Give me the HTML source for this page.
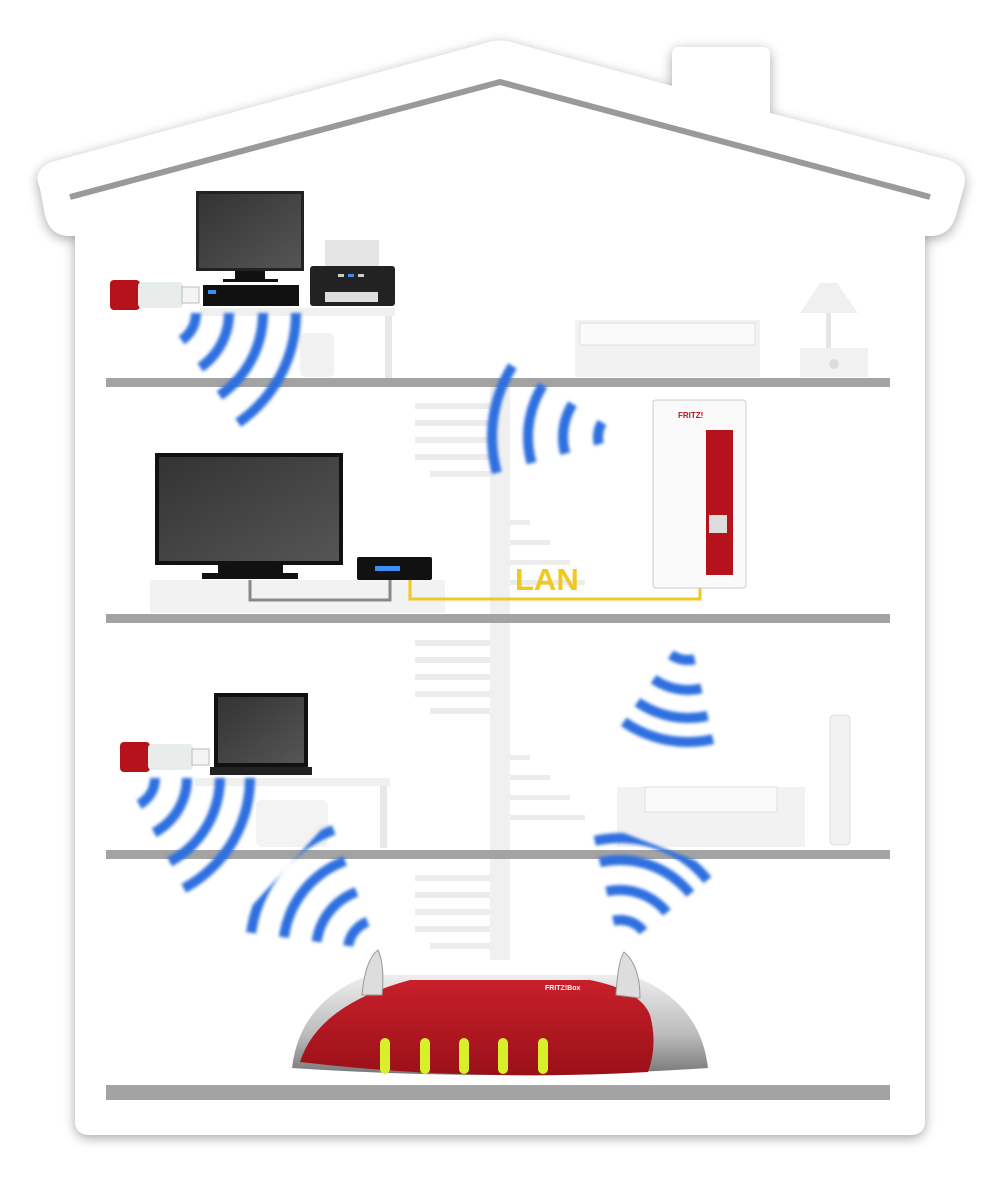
<!DOCTYPE html>
<html><head><meta charset="utf-8"><style>
html,body{margin:0;padding:0;background:#fff;}
svg{display:block;}
</style></head><body>
<svg width="1000" height="1200" viewBox="0 0 1000 1200" xmlns="http://www.w3.org/2000/svg">
<defs>
<filter id="sh" x="-10%" y="-10%" width="120%" height="120%"><feGaussianBlur in="SourceAlpha" stdDeviation="6"/><feOffset dx="0" dy="3"/><feComponentTransfer><feFuncA type="linear" slope="0.35"/></feComponentTransfer><feMerge><feMergeNode/><feMergeNode in="SourceGraphic"/></feMerge></filter>
<filter id="bl"><feGaussianBlur stdDeviation="1.6"/></filter>
<linearGradient id="scr" x1="0" y1="0" x2="1" y2="1"><stop offset="0" stop-color="#333"/><stop offset="1" stop-color="#555"/></linearGradient>
<linearGradient id="silv" x1="0" y1="0" x2="0" y2="1"><stop offset="0" stop-color="#eee"/><stop offset="0.6" stop-color="#bbb"/><stop offset="1" stop-color="#777"/></linearGradient>
<linearGradient id="red" x1="0" y1="0" x2="0" y2="1"><stop offset="0" stop-color="#c8202a"/><stop offset="1" stop-color="#9a1018"/></linearGradient>
<clipPath id="w1"><polygon points="163,313 340,313 250,440"/></clipPath>
<clipPath id="w2"><polygon points="625,437 400,295 400,500"/></clipPath>
<clipPath id="w3"><polygon points="688,630 590,770 720,770"/></clipPath>
<clipPath id="w4"><polygon points="125,778 330,778 190,900"/></clipPath>
<clipPath id="w5"><polygon points="378,950 330,820 230,930"/></clipPath>
<clipPath id="w6"><polygon points="620,950 590,820 720,870"/></clipPath>
</defs>

<path filter="url(#sh)" fill="#fff" d="M40,188 Q32,170 52,162 L490,42 Q500,39 510,42 L672,86 L672,55 Q672,47 680,47 L762,47 Q770,47 770,55 L770,113 L948,160 Q970,168 963,190 L956,215 Q950,236 930,236 L925,236 L925,1120 Q925,1135 910,1135 L90,1135 Q75,1135 75,1120 L75,236 L70,236 Q50,236 45,215 Z"/>
<polyline points="70,197 500,82 930,197" fill="none" stroke="#9a9a9a" stroke-width="6"/>

<g fill="#ececec">
<rect x="490" y="380" width="20" height="580" fill="#f0f0f0"/>
<rect x="415" y="403" width="75" height="6"/><rect x="415" y="420" width="75" height="6"/><rect x="415" y="437" width="75" height="6"/><rect x="415" y="454" width="75" height="6"/><rect x="430" y="471" width="60" height="6"/>
<rect x="510" y="520" width="20" height="5"/><rect x="510" y="540" width="40" height="5"/><rect x="510" y="560" width="60" height="5"/><rect x="510" y="580" width="75" height="5"/>
<rect x="415" y="640" width="75" height="6"/><rect x="415" y="657" width="75" height="6"/><rect x="415" y="674" width="75" height="6"/><rect x="415" y="691" width="75" height="6"/><rect x="430" y="708" width="60" height="6"/>
<rect x="510" y="755" width="20" height="5"/><rect x="510" y="775" width="40" height="5"/><rect x="510" y="795" width="60" height="5"/><rect x="510" y="815" width="75" height="5"/>
<rect x="415" y="875" width="75" height="6"/><rect x="415" y="892" width="75" height="6"/><rect x="415" y="909" width="75" height="6"/><rect x="415" y="926" width="75" height="6"/><rect x="430" y="943" width="60" height="6"/>
</g>

<g fill="#a3a3a3">
<rect x="106" y="378" width="784" height="9"/>
<rect x="106" y="614" width="784" height="9"/>
<rect x="106" y="850" width="784" height="9"/>
<rect x="106" y="1085" width="784" height="15"/>
</g>

<rect x="200" y="308" width="195" height="8" fill="#f0f0f0"/>
<rect x="385" y="316" width="7" height="62" fill="#e8e8e8"/>
<rect x="300" y="333" width="34" height="44" rx="5" fill="#f2f2f2"/>
<rect x="196" y="191" width="108" height="80" fill="#222"/><rect x="199" y="194" width="102" height="74" fill="url(#scr)"/>
<rect x="235" y="271" width="30" height="9" fill="#111"/><rect x="223" y="279" width="55" height="3" fill="#111"/>
<rect x="203" y="285" width="96" height="21" fill="#111"/><rect x="208" y="290" width="8" height="4" fill="#3b8ef0"/>
<rect x="325" y="240" width="54" height="27" fill="#e5e5e5"/>
<rect x="310" y="266" width="85" height="40" rx="3" fill="#222"/><rect x="325" y="292" width="53" height="10" fill="#ddd"/>
<rect x="338" y="274" width="6" height="3" fill="#ccc"/><rect x="348" y="274" width="6" height="3" fill="#3b8ef0"/><rect x="358" y="274" width="6" height="3" fill="#ccc"/>
<rect x="110" y="280" width="30" height="30" rx="4" fill="#b5121b"/><rect x="138" y="282" width="45" height="26" rx="4" fill="#e8eceb"/><rect x="182" y="287" width="17" height="16" fill="#f4f4f4" stroke="#bbb"/>
<rect x="575" y="320" width="185" height="57" fill="#f2f2f2"/><rect x="580" y="323" width="175" height="22" fill="#fafafa" stroke="#e0e0e0"/>
<polygon points="820,283 837,283 858,313 800,313" fill="#f0f0f0"/><rect x="826" y="313" width="5" height="37" fill="#e5e5e5"/><rect x="800" y="348" width="68" height="29" fill="#f2f2f2"/><circle cx="834" cy="364" r="5" fill="#ddd"/>

<rect x="150" y="580" width="295" height="33" fill="#f2f2f2"/>
<rect x="155" y="453" width="188" height="112" fill="#111"/><rect x="159" y="457" width="180" height="104" fill="url(#scr)"/>
<rect x="218" y="565" width="65" height="8" fill="#111"/><rect x="202" y="573" width="96" height="6" fill="#111"/>
<rect x="357" y="557" width="75" height="23" rx="2" fill="#111"/><rect x="375" y="566" width="25" height="5" fill="#3b8ef0"/>
<polyline points="250,580 250,600 390,600 390,580" fill="none" stroke="#888" stroke-width="3"/>
<polyline points="410,580 410,599 700,599 700,588" fill="none" stroke="#f0c820" stroke-width="3"/>
<text x="515" y="590" font-family="Liberation Sans, sans-serif" font-weight="bold" font-size="31" fill="#f0c820">LAN</text>
<rect x="653" y="400" width="93" height="188" rx="3" fill="#fafafa" stroke="#ccc"/>
<rect x="706" y="430" width="27" height="145" fill="#b5121b"/><rect x="709" y="515" width="18" height="18" fill="#ddd"/>
<text x="678" y="418" font-family="Liberation Sans, sans-serif" font-weight="bold" font-size="8" fill="#c01020">FRITZ!</text>

<rect x="195" y="778" width="195" height="8" fill="#f0f0f0"/>
<rect x="380" y="786" width="7" height="62" fill="#e8e8e8"/>
<rect x="256" y="800" width="72" height="47" rx="6" fill="#f3f3f3"/>
<rect x="214" y="693" width="94" height="74" fill="#111"/><rect x="218" y="697" width="86" height="66" fill="url(#scr)"/>
<rect x="210" y="767" width="102" height="8" fill="#222"/>
<rect x="120" y="742" width="30" height="30" rx="4" fill="#b5121b"/><rect x="148" y="744" width="45" height="26" rx="4" fill="#e8eceb"/><rect x="192" y="749" width="17" height="16" fill="#f4f4f4" stroke="#bbb"/>
<rect x="617" y="787" width="188" height="60" fill="#f2f2f2"/><rect x="645" y="787" width="132" height="25" fill="#fafafa" stroke="#e0e0e0"/>
<rect x="830" y="715" width="20" height="130" rx="4" fill="#f2f2f2" stroke="#ddd"/>

<g fill="none" stroke="#2f6fe0" stroke-width="10" filter="url(#bl)">
<g clip-path="url(#w1)"><circle cx="163" cy="313" r="33"/><circle cx="163" cy="313" r="66"/><circle cx="163" cy="313" r="100"/><circle cx="163" cy="313" r="133"/></g>
<g clip-path="url(#w2)"><circle cx="625" cy="437" r="27"/><circle cx="625" cy="437" r="62"/><circle cx="625" cy="437" r="97"/><circle cx="625" cy="437" r="133"/></g>
<g clip-path="url(#w3)"><circle cx="688" cy="630" r="30"/><circle cx="688" cy="630" r="60"/><circle cx="688" cy="630" r="88"/><circle cx="688" cy="630" r="112"/></g>
<g clip-path="url(#w4)"><circle cx="125" cy="778" r="30"/><circle cx="125" cy="778" r="62"/><circle cx="125" cy="778" r="95"/><circle cx="125" cy="778" r="125"/></g>
<g clip-path="url(#w5)"><circle cx="378" cy="950" r="30"/><circle cx="378" cy="950" r="62"/><circle cx="378" cy="950" r="95"/><circle cx="378" cy="950" r="128"/></g>
<g clip-path="url(#w6)"><circle cx="620" cy="950" r="30"/><circle cx="620" cy="950" r="60"/><circle cx="620" cy="950" r="90"/><circle cx="620" cy="950" r="112"/></g>
</g>

<path d="M292,1068 Q300,1000 370,975 L630,975 Q700,1000 708,1068 Q500,1082 292,1068 Z" fill="url(#silv)"/>
<path d="M300,1062 Q318,1005 410,980 L590,980 Q640,990 650,1015 Q658,1045 648,1072 Q470,1082 300,1062 Z" fill="url(#red)"/>
<path d="M362,995 Q365,960 378,950 Q385,965 382,995 Z" fill="#ddd" stroke="#999"/>
<path d="M616,995 Q618,960 624,952 Q640,965 640,998 Z" fill="#ddd" stroke="#999"/>
<g fill="#d8f02a"><rect x="380" y="1038" width="10" height="36" rx="5"/><rect x="420" y="1038" width="10" height="36" rx="5"/><rect x="459" y="1038" width="10" height="36" rx="5"/><rect x="498" y="1038" width="10" height="36" rx="5"/><rect x="538" y="1038" width="10" height="36" rx="5"/></g>
<text x="545" y="990" font-family="Liberation Sans, sans-serif" font-weight="bold" font-size="7" fill="#fff">FRITZ!Box</text>
</svg>
</body></html>
